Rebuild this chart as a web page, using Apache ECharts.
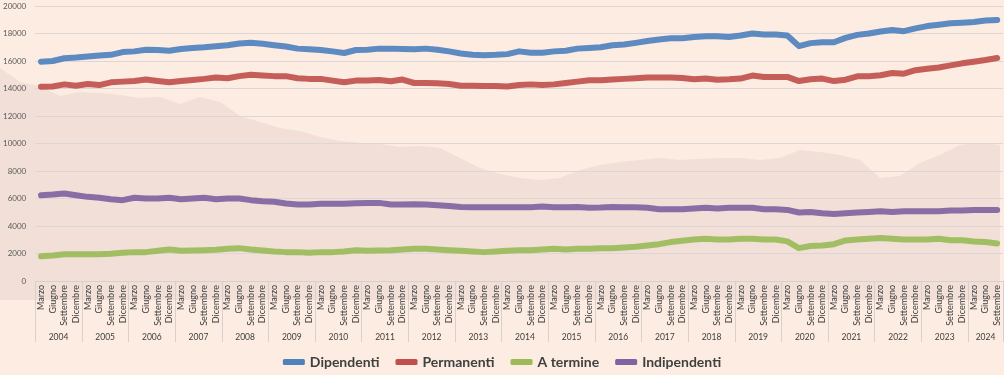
<!DOCTYPE html>
<html>
<head>
<meta charset="utf-8">
<script src="https://cdn.jsdelivr.net/npm/echarts@6/dist/echarts.min.js"></script>
<style>
  html, body { margin: 0; padding: 0; background: #fcece1; }
  #chart { width: 1004px; height: 375px; }
</style>
</head>
<body>
<div id="chart"></div>
<script>
// ---- data ----
const years = [2004, 2005, 2006, 2007, 2008, 2009, 2010, 2011, 2012, 2013, 2014,
               2015, 2016, 2017, 2018, 2019, 2020, 2021, 2022, 2023, 2024];
const quarterNames = ['Marzo', 'Giugno', 'Settembre', 'Dicembre'];
const lastYearQuarters = 3; // 2024: Marzo .. Settembre

const dipendenti = [
  15950,16000,16200,16250,16320,16400,16450,16650,16700,16820,
  16800,16750,16870,16950,17000,17080,17150,17270,17320,17250,
  17150,17050,16900,16850,16800,16700,16580,16800,
  16820,16900,16900,16870,16850,16900,16820,16700,16550,16450,
  16420,16450,16500,16700,16600,16600,16700,16750,16900,16950,
  17000,17150,17200,17320,17450,17570,17650,
  17650,17750,17800,17800,17750,17850,18000,17930,17930,17850,
  17080,17300,17360,17360,17680,17900,18000,18150,18250,18170,
  18370,18540,18640,18740,18790,18840,18940,18990
];
const permanenti = [
  14125,14150,14300,14200,14325,14250,14450,14500,14550,14650,
  14550,14450,14550,14620,14700,14800,14750,14900,15000,14950,
  14900,14900,14750,14700,14700,14575,14450,14575,
  14575,14620,14525,14650,14400,14400,14375,14325,14200,14200,
  14175,14175,14150,14250,14300,14250,14300,14400,14500,14600,
  14600,14650,14700,14750,14800,14800,14800,
  14760,14670,14720,14640,14670,14720,14940,14840,14840,14840,
  14540,14670,14720,14540,14640,14890,14890,14960,15130,15080,
  15330,15430,15530,15680,15830,15950,16070,16220
];
const aTermine = [
  1800,1850,1950,1950,1950,1950,1975,2050,2100,2100,
  2200,2290,2200,2220,2240,2270,2340,2390,2290,2220,
  2150,2100,2100,2050,2100,2100,2150,2240,
  2200,2220,2240,2290,2340,2340,2290,2240,2200,2150,
  2100,2150,2200,2240,2240,2290,2340,2290,2340,2340,
  2390,2390,2440,2490,2580,2680,2830,
  2930,3020,3070,3020,3020,3070,3070,3020,3020,2880,
  2390,2540,2580,2680,2950,3020,3070,3120,3070,3020,
  3020,3020,3070,2970,2970,2880,2830,2730
];
const indipendenti = [
  6240,6290,6370,6240,6120,6050,5950,5880,6050,6000,
  6000,6050,5950,6000,6050,5950,6000,6000,5880,5800,
  5760,5630,5560,5560,5610,5610,5610,5650,
  5680,5680,5560,5560,5590,5560,5510,5460,5390,5370,
  5370,5370,5370,5370,5370,5410,5370,5370,5390,5320,
  5340,5390,5370,5370,5320,5220,5220,
  5220,5270,5320,5270,5320,5320,5320,5220,5220,5170,
  4980,5020,4930,4880,4930,4980,5020,5070,5020,5070,
  5070,5070,5070,5120,5120,5170,5170,5170
];
// faint background shading (overlaid ghost image), sampled across the full width
const backdrop = [
  16873,15855,15564,14837,15128,15055,14910,14691,14764,14255,
  14764,14400,13382,12946,12510,12291,11855,11564,11418,11346,
  11128,11200,11055,10328,9600,9164,8873,8728,8873,9455,
  9818,10037,10182,10328,10182,10255,10328,10328,10182,10328,
  10910,10764,10546,10182,8873,9018,9964,10546,11273,11418,11273
];
const yTicks = { min: 0, max: 20000, interval: 2000 };

// ---- categories ----
const categories = [];
years.forEach((y, yi) => {
  const n = yi === years.length - 1 ? lastYearQuarters : 4;
  for (let q = 0; q < n; q++) categories.push(y + ' ' + quarterNames[q]);
});
const backdropX = backdrop.map((_, i) => 'b' + i);

const FONT = 'Lato';
const TXT = '#404040';
const LINE = '#d8d0cd';

const chart = echarts.init(document.getElementById('chart'), null, { renderer: 'canvas' });
chart.setOption({
  animation: false,
  backgroundColor: '#fcece1',
  grid: [
    { left: 0, right: 4, top: 6, bottom: 75 },
    { left: 32, right: 1, top: 6, bottom: 94 }
  ],
  xAxis: [
    { gridIndex: 0, type: 'category', data: backdropX, boundaryGap: false, show: false },
    {
      gridIndex: 1, type: 'category', data: categories, boundaryGap: true,
      axisLine: { show: true, lineStyle: { color: LINE, width: 1 } },
      axisTick: { show: false },
      axisLabel: {
        interval: 0, rotate: 90, margin: 4, fontSize: 9, fontFamily: FONT, color: TXT,
        formatter: v => v.split(' ')[1]
      }
    },
    {
      gridIndex: 1, type: 'category', data: categories, boundaryGap: true, position: 'bottom',
      axisLine: { show: false },
      axisTick: { show: true, length: 61, interval: i => i % 4 === 0, lineStyle: { color: LINE, width: 1 } },
      axisLabel: {
        interval: i => i % 4 === 1, margin: 52, fontSize: 8.5, fontFamily: FONT, color: TXT,
        formatter: (v, i) => {
          const y = v.split(' ')[0];
          return (i + 3 < categories.length) ? '{a|' + y + '}' : '{b|' + y + '}';
        },
        rich: {
          a: { padding: [0, 0, 0, 11.7], fontSize: 8.5, fontFamily: FONT, color: TXT },
          b: { fontSize: 8.5, fontFamily: FONT, color: TXT }
        }
      }
    }
  ],
  yAxis: [
    { gridIndex: 0, type: 'value', min: 0, max: 21382, show: false },
    {
      gridIndex: 1, type: 'value', min: yTicks.min, max: yTicks.max, interval: yTicks.interval,
      axisLine: { show: false }, axisTick: { show: false },
      splitLine: { show: true, lineStyle: { color: '#ddd6d6', width: 1 } },
      axisLabel: { margin: 9, fontSize: 8, fontFamily: FONT, color: '#595959', formatter: v => String(v) }
    }
  ],
  legend: {
    data: ['Dipendenti', 'Permanenti', 'A termine', 'Indipendenti'],
    left: 'center', top: 350,
    icon: 'roundRect', itemWidth: 22, itemHeight: 6, itemGap: 16,
    textStyle: { fontFamily: FONT, fontWeight: 'bold', fontSize: 14, color: TXT }
  },
  series: [
    {
      name: 'sfondo', type: 'line', xAxisIndex: 0, yAxisIndex: 0, data: backdrop,
      symbol: 'none', silent: true, z: -1,
      lineStyle: { width: 0 },
      areaStyle: { color: '#f2dfd8', opacity: 1 }
    },
    ...[
      ['Dipendenti', dipendenti, '#4f81bd'],
      ['Permanenti', permanenti, '#c0504d'],
      ['A termine', aTermine, '#9bbb59'],
      ['Indipendenti', indipendenti, '#8064a2']
    ].map(([name, data, color]) => ({
      name, type: 'line', xAxisIndex: 1, yAxisIndex: 1, data,
      symbol: 'none', color,
      lineStyle: { width: 6, color, cap: 'round', join: 'round', opacity: 0.92 },
      z: 3
    }))
  ]
});
</script>
</body>
</html>
